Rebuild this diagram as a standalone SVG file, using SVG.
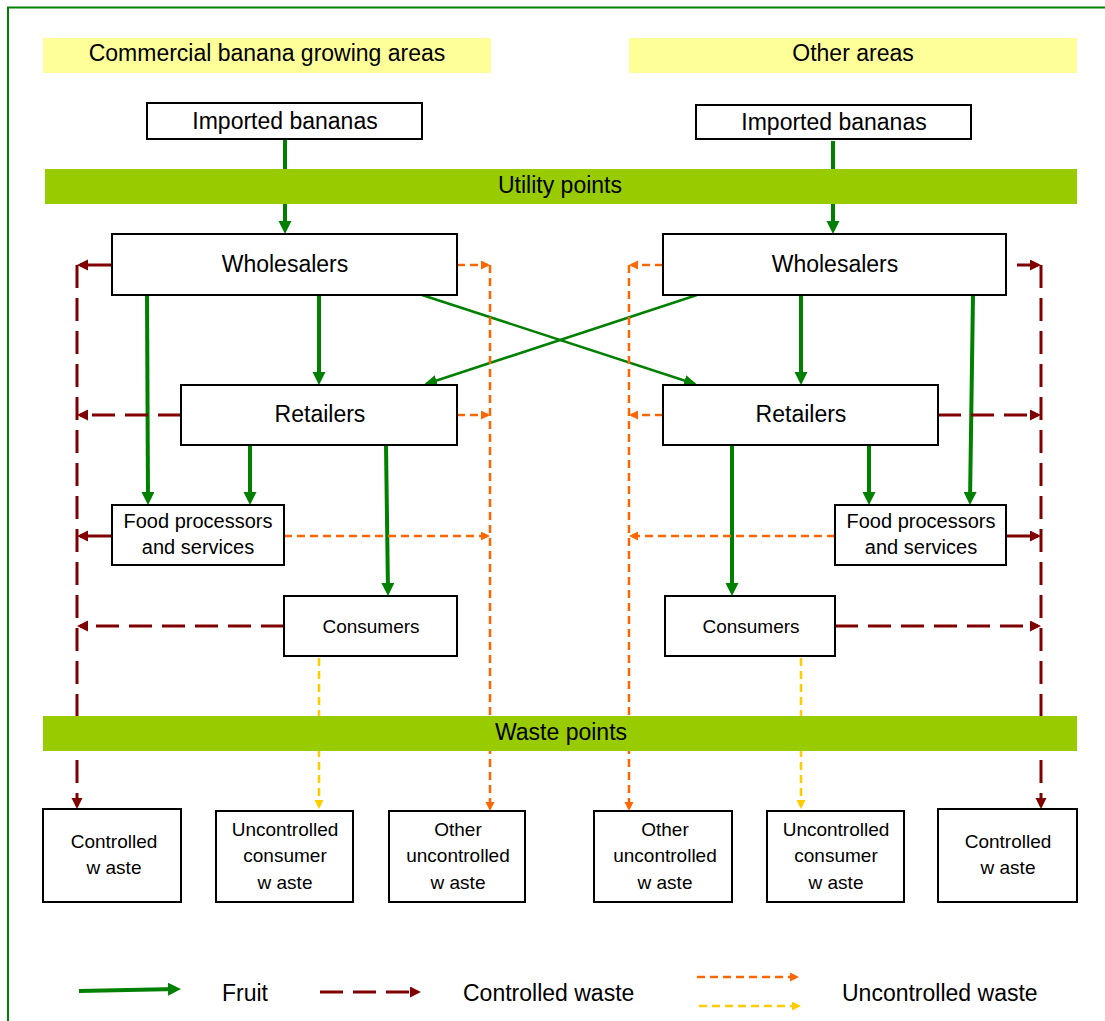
<svg xmlns="http://www.w3.org/2000/svg" width="1105" height="1021" viewBox="0 0 1105 1021">
<style>
text{font-family:"Liberation Sans",Arial,sans-serif;fill:#000;text-anchor:middle}
.big{font-size:23px}
.mid{font-size:20px}
.sm{font-size:19px}
.box{fill:#fff;stroke:#000;stroke-width:2}
.hdr{fill:#FFFF99}
.bar{fill:#99CC00}
.g{fill:none;stroke:#008000;stroke-width:4;marker-end:url(#ag)}
.gt{fill:none;stroke:#008000;stroke-width:2.5;marker-end:url(#agt)}
.r{fill:none;stroke:#800000;stroke-width:3;marker-end:url(#ar)}
.rd{stroke-dasharray:23 10}
.o{fill:none;stroke:#FF6600;stroke-width:2.5;stroke-dasharray:8 5;marker-end:url(#ao)}
.y{fill:none;stroke:#FFCC00;stroke-width:2.5;stroke-dasharray:8 5;marker-end:url(#ay)}
</style>
<defs>
<marker id="ag" markerUnits="userSpaceOnUse" markerWidth="14" markerHeight="14" refX="9" refY="6.5" orient="auto"><path d="M0,0 L13,6.5 L0,13 z" fill="#008000"/></marker>
<marker id="agt" markerUnits="userSpaceOnUse" markerWidth="14" markerHeight="14" refX="11" refY="5.5" orient="auto"><path d="M0,0 L13,5.5 L0,11 z" fill="#008000"/></marker>
<marker id="ar" markerUnits="userSpaceOnUse" markerWidth="12" markerHeight="12" refX="8" refY="5.5" orient="auto"><path d="M0,0 L11,5.5 L0,11 z" fill="#800000"/></marker>
<marker id="ao" markerUnits="userSpaceOnUse" markerWidth="10" markerHeight="10" refX="7" refY="4.5" orient="auto"><path d="M0,0 L9,4.5 L0,9 z" fill="#FF6600"/></marker>
<marker id="ay" markerUnits="userSpaceOnUse" markerWidth="10" markerHeight="10" refX="7" refY="4.5" orient="auto"><path d="M0,0 L9,4.5 L0,9 z" fill="#FFCC00"/></marker>
</defs>
<rect x="8" y="7.5" width="1120" height="1040" fill="#fff" stroke="#008000" stroke-width="2"/>

<g id="header-left"><rect class="hdr" x="43" y="38" width="448" height="35"/><text class="big" x="267" y="61">Commercial banana growing areas</text></g>
<g id="header-right"><rect class="hdr" x="629" y="38" width="448" height="35"/><text class="big" x="853" y="61">Other areas</text></g>

<g id="connectors">
<path class="g" d="M285,139 V230"/>
<path class="g" d="M833,141 V230"/>
<path class="g" d="M147,295 L148,501"/>
<path class="g" d="M319,295 V381"/>
<path class="g" d="M250,445 V501"/>
<path class="g" d="M386,445 L388,592"/>
<path class="g" d="M801,295 V381"/>
<path class="g" d="M973,295 L970,501"/>
<path class="g" d="M869,445 V501"/>
<path class="g" d="M732,445 V592"/>
<path class="gt" d="M422,295 L695,384"/>
<path class="gt" d="M697,295 L426,384"/>

<path class="r" d="M112,265 H80"/>
<path class="r" d="M112,536 H80"/>
<path class="r" d="M1006,536 H1038"/>
<path class="r rd" d="M181,415 H80"/>
<path class="r rd" d="M284,626 H80"/>
<path class="r rd" d="M77,265 V806"/>
<path class="r rd" d="M1017,265 H1038"/>
<path class="r rd" d="M938,415 H1038"/>
<path class="r rd" d="M835,626 H1038"/>
<path class="r rd" d="M1041,265 V806"/>

<path class="o" d="M457,265 H488"/>
<path class="o" d="M457,415 H488"/>
<path class="o" d="M284,536 H488"/>
<path class="o" d="M490,265 V809"/>
<path class="o" d="M663,265 H631"/>
<path class="o" d="M663,415 H631"/>
<path class="o" d="M835,536 H631"/>
<path class="o" d="M629,265 V809"/>

<path class="y" d="M319,658 V807"/>
<path class="y" d="M801,658 V807"/>
</g>

<g id="utility-points"><rect class="bar" x="45" y="169" width="1032" height="35"/><text class="big" x="560" y="193">Utility points</text></g>
<g id="waste-points"><rect class="bar" x="43" y="716" width="1034" height="35"/><text class="big" x="561" y="740">Waste points</text></g>

<g id="imported-left"><rect class="box" x="147" y="103" width="275" height="36"/><text class="big" x="285" y="129">Imported bananas</text></g>
<g id="imported-right"><rect class="box" x="696" y="105" width="275" height="34"/><text class="big" x="834" y="130">Imported bananas</text></g>
<g id="wholesalers-left"><rect class="box" x="112" y="234" width="345" height="61"/><text class="big" x="285" y="272">Wholesalers</text></g>
<g id="wholesalers-right"><rect class="box" x="663" y="234" width="343" height="61"/><text class="big" x="835" y="272">Wholesalers</text></g>
<g id="retailers-left"><rect class="box" x="181" y="385" width="276" height="60"/><text class="big" x="320" y="422">Retailers</text></g>
<g id="retailers-right"><rect class="box" x="663" y="385" width="275" height="60"/><text class="big" x="801" y="422">Retailers</text></g>
<g id="food-left"><rect class="box" x="112" y="505" width="172" height="60"/><text class="mid" x="198" y="528">Food processors</text><text class="mid" x="198" y="554">and services</text></g>
<g id="food-right"><rect class="box" x="835" y="505" width="171" height="60"/><text class="mid" x="921" y="528">Food processors</text><text class="mid" x="921" y="554">and services</text></g>
<g id="consumers-left"><rect class="box" x="284" y="596" width="173" height="60"/><text class="sm" x="371" y="633">Consumers</text></g>
<g id="consumers-right"><rect class="box" x="665" y="596" width="170" height="60"/><text class="sm" x="751" y="633">Consumers</text></g>

<g id="controlled-left"><rect class="box" x="43" y="809" width="138" height="93"/><text class="sm" x="114" y="848">Controlled</text><text class="sm" x="114" y="874">w aste</text></g>
<g id="uncons-left"><rect class="box" x="216" y="811" width="137" height="91"/><text class="sm" x="285" y="836">Uncontrolled</text><text class="sm" x="285" y="862">consumer</text><text class="sm" x="285" y="889">w aste</text></g>
<g id="other-left"><rect class="box" x="389" y="811" width="136" height="91"/><text class="sm" x="458" y="836">Other</text><text class="sm" x="458" y="862">uncontrolled</text><text class="sm" x="458" y="889">w aste</text></g>
<g id="other-right"><rect class="box" x="594" y="811" width="138" height="91"/><text class="sm" x="665" y="836">Other</text><text class="sm" x="665" y="862">uncontrolled</text><text class="sm" x="665" y="889">w aste</text></g>
<g id="uncons-right"><rect class="box" x="767" y="811" width="137" height="91"/><text class="sm" x="836" y="836">Uncontrolled</text><text class="sm" x="836" y="862">consumer</text><text class="sm" x="836" y="889">w aste</text></g>
<g id="controlled-right"><rect class="box" x="938" y="809" width="139" height="93"/><text class="sm" x="1008" y="848">Controlled</text><text class="sm" x="1008" y="874">w aste</text></g>

<g id="legend">
<path class="g" d="M79,991 L177,989"/>
<text class="big" x="222" y="1001" style="text-anchor:start">Fruit</text>
<path class="r rd" d="M320,992 H418"/>
<text class="big" x="463" y="1001" style="text-anchor:start">Controlled waste</text>
<path class="o" d="M697,977 H797"/>
<path class="y" d="M699,1006 H799"/>
<text class="big" x="842" y="1001" style="text-anchor:start">Uncontrolled waste</text>
</g>
</svg>
